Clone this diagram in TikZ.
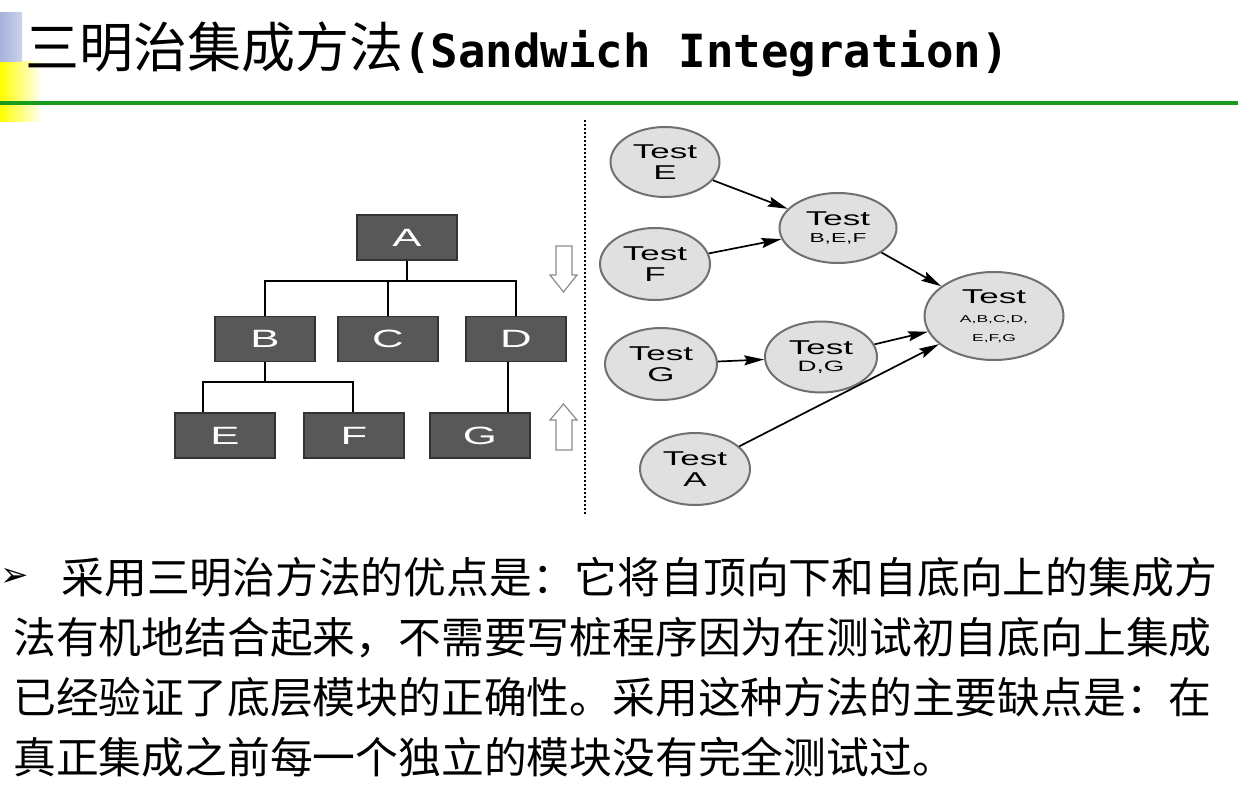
\documentclass[tikz,border=0pt]{standalone}
\usepackage{fontspec}
\usetikzlibrary{shapes.geometric,arrows.meta}
\newfontfamily\cjk{Noto Sans CJK SC}
\newfontfamily\titlemono{DejaVu Sans Mono}
\newfontfamily\widesans[FakeStretch=1.75]{Liberation Sans}
\newfontfamily\dejavu{DejaVu Sans}
\definecolor{boxfill}{HTML}{585858}
\definecolor{boxline}{HTML}{333333}
\definecolor{ellfill}{HTML}{E0E0E0}
\definecolor{ellline}{HTML}{707070}
\definecolor{titlegreen}{HTML}{1A9A1A}
\definecolor{decoblue}{HTML}{A6B0DA}
\definecolor{decoblue2}{HTML}{CCD3EC}
\tikzset{
  modbox/.style={draw=boxline, fill=boxfill, line width=0.8pt, minimum width=50pt, minimum height=22.5pt, inner sep=0pt,
    text=white, font=\widesans\fontsize{12.5}{12.5}\selectfont},
  testell/.style={ellipse, draw=ellline, fill=ellfill, line width=1pt, inner sep=0pt, align=center,
    font=\widesans\fontsize{10}{10.5}\selectfont},
  treeline/.style={draw=black, line width=1pt},
  flow/.style={draw=black, line width=0.85pt, -{Stealth[length=10pt,width=5pt,inset=1.5pt]}},
  hollow/.style={draw=black!45, fill=white, line width=0.6pt, line join=miter},
  bodyline/.style={anchor=base west, inner sep=0pt, font=\cjk\fontsize{21.4}{21.4}\selectfont}
}
\begin{document}
\begin{tikzpicture}[x=0.5pt,y=-0.5pt]
\useasboundingbox (0,0) rectangle (1238,792);
% decoration
\shade[left color=yellow, right color=white] (0,62) rectangle (42,122);
\shade[left color=decoblue, right color=decoblue2] (0,13) rectangle (22,62);
\draw[titlegreen, line width=2pt] (0,103) -- (1238,103);
% title
\node[anchor=base west, inner sep=0pt] (title) at (25,68)
  {{\cjk\fontsize{27}{27}\selectfont 三明治集成方法}{\titlemono\bfseries\fontsize{22.85}{22.85}\selectfont (Sandwich Integration)}};
% tree
\node[modbox] (A) at (407,237.5) {A};
\node[modbox] (B) at (265,339) {B};
\node[modbox] (C) at (388,339) {C};
\node[modbox] (D) at (516,339) {D};
\node[modbox] (E) at (225,435.5) {E};
\node[modbox] (F) at (354,435.5) {F};
\node[modbox] (G) at (480,435.5) {G};
\coordinate (j1) at (A.south |- 0,281);
\coordinate (j2) at (B.south |- 0,382);
\draw[treeline] (A.south) -- (j1);
\draw[treeline] (B.north) |- (j1) -| (D.north);
\draw[treeline] (C.north) -- (C.north |- j1);
\draw[treeline] (B.south) -- (j2);
\draw[treeline] (E.north -| 203,0) |- (j2) -| (F.north -| 353,0);
\draw[treeline] ([xshift=-4pt]D.south) -- ([xshift=-4pt]D.south |- G.north);
% hollow arrows
\draw[hollow] (556,246) -- (572,246) -- (572,275) -- (577,275) -- (563.5,292) -- (550,275) -- (556,275) -- cycle;
\draw[hollow] (556,450) -- (572,450) -- (572,420) -- (577,420) -- (563.5,404) -- (550,420) -- (556,420) -- cycle;
% dotted separator
\draw[line width=1.1pt, dash pattern=on 1pt off 1pt] (585,120) -- (585,515);
% test graph
\node[testell, minimum width=54.5pt, minimum height=35pt] (tE) at (665,162) {Test\\E};
\node[testell, minimum width=55pt, minimum height=36pt] (tF) at (655,264) {Test\\F};
\node[testell, minimum width=58.5pt, minimum height=35pt] (tBEF) at (838,228)
  {Test\\[-2pt]{\fontsize{6.5}{6.5}\selectfont B,E,F}};
\node[testell, minimum width=69.5pt, minimum height=44pt] (tAll) at (994,316)
  {Test\\[-1pt]{\fontsize{5}{6}\selectfont A,B,C,D,}\\[-1pt]{\fontsize{5}{6}\selectfont E,F,G}};
\node[testell, minimum width=56pt, minimum height=36pt] (tG) at (661,364) {Test\\G};
\node[testell, minimum width=56pt, minimum height=35.5pt] (tDG) at (821,357)
  {Test\\[-2pt]{\fontsize{7.5}{7.5}\selectfont D,G}};
\node[testell, minimum width=55pt, minimum height=36pt] (tA) at (695,469) {Test\\A};
\draw[flow] (tE) -- (tBEF);
\draw[flow] (tF) -- (tBEF);
\draw[flow] (tBEF) -- (tAll);
\draw[flow] (tG) -- (tDG);
\draw[flow] (tDG) -- (tAll);
\draw[flow] (tA) -- (tAll);
% body text
\node[anchor=west, inner sep=0pt, font=\dejavu\fontsize{17}{17}\selectfont] (bullet) at (0,577) {➢};
\node[bodyline] (l1) at (61,593) {采用三明治方法的优点是：它将自顶向下和自底向上的集成方};
\node[bodyline] (l2) at (13,653) {法有机地结合起来，不需要写桩程序因为在测试初自底向上集成};
\node[bodyline] (l3) at (13,713) {已经验证了底层模块的正确性。采用这种方法的主要缺点是：在};
\node[bodyline] (l4) at (13,773) {真正集成之前每一个独立的模块没有完全测试过。};
\end{tikzpicture}
\end{document}
